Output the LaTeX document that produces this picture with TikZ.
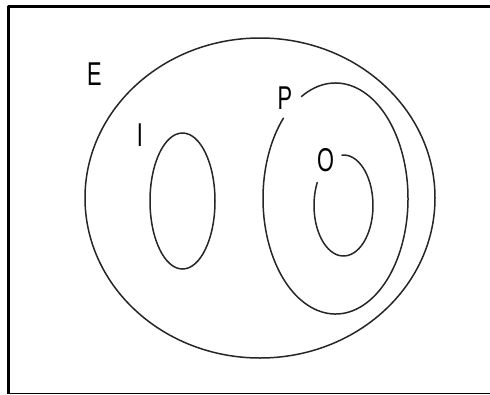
\documentclass[tikz,border=0pt]{standalone}
\usepackage{fontspec}
\setmainfont{Liberation Sans}
\usepackage{tikz}
\usetikzlibrary{calc}
\newcommand{\setname}[1]{\scalebox{0.66}[1]{#1}}

\begin{document}
\begin{tikzpicture}[x=1pt,y=-1pt,line cap=round,line join=round,
    setline/.style={black!85,line width=1.5pt},
    setlabel/.style={inner sep=0pt,font=\fontsize{33}{33}\selectfont}]
  \useasboundingbox (0,0) rectangle (490,394);
  \path[fill=white] (0,0) rectangle (490,394);
  \draw[line width=3pt,line cap=butt] (8.5,394) -- (8.5,6.5) -- (490,6.5);
  \draw[line width=1pt,line cap=butt] (10,393) -- (490,393);
  \coordinate (E) at (260,198);
  \coordinate (I) at (182.5,201);
  \coordinate (P) at (335.5,198.5);
  \coordinate (O) at (343.5,205.5);
  \draw[setline] (E) ellipse[x radius=175,y radius=160];
  \draw[setline] (I) ellipse[x radius=32.5,y radius=68];
  \draw[setline] ($(P)+(242:72.5 and 115.5)$)
    arc[start angle=242,end angle=584,x radius=72.5,y radius=115.5];
  \draw[setline] ($(O)+(267:29.5 and 50.5)$)
    arc[start angle=267,end angle=567,x radius=29.5,y radius=50.5];
  \node[setlabel] (labE) at (94.5,74) {\setname{E}};
  \node[setlabel] (labI) at (140,135) {\setname{I}};
  \node[setlabel] (labP) at (285,98.5) {\setname{P}};
  \node[setlabel] (labO) at (325.5,160.5) {\setname{O}};
\end{tikzpicture}
\end{document}
